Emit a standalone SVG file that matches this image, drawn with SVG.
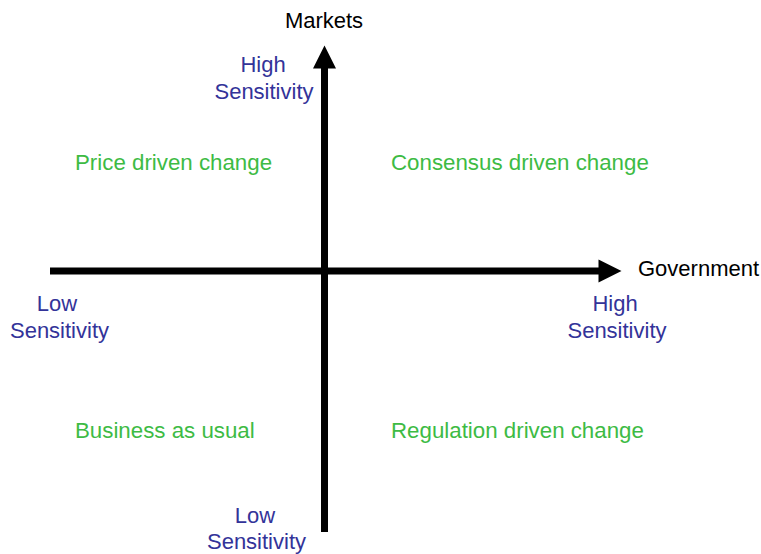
<svg xmlns="http://www.w3.org/2000/svg" width="761" height="554" viewBox="0 0 761 554">
<style>
text{font-family:"Liberation Sans",Arial,sans-serif;font-size:22px}
.ax{fill:#000}
.s{fill:#333399;text-anchor:middle}
.q{fill:#3dbb44;font-size:22.3px}
.ln{stroke:#000;stroke-width:7;fill:none}
</style>
<defs>
<marker id="ah" markerUnits="userSpaceOnUse" markerWidth="23" markerHeight="23" refX="0.5" refY="11.5" orient="auto" viewBox="0 0 23 23" overflow="visible">
<path d="M0,0 L23,11.5 L0,23 Z" fill="#000"/>
</marker>
</defs>
<g id="connectors">
<line class="ln" x1="324.5" y1="532" x2="324.5" y2="68" marker-end="url(#ah)"/>
<line class="ln" x1="50" y1="271" x2="599" y2="271" marker-end="url(#ah)"/>
</g>
<g id="markets"><text class="ax" x="324" y="28" text-anchor="middle">Markets</text></g>
<g id="government"><text class="ax" x="638" y="276">Government</text></g>
<g id="top-high"><text class="s" x="263" y="72">High</text><text class="s" x="264" y="99">Sensitivity</text></g>
<g id="left-low"><text class="s" x="57" y="311">Low</text><text class="s" x="59.5" y="338">Sensitivity</text></g>
<g id="right-high"><text class="s" x="615" y="311">High</text><text class="s" x="617" y="338">Sensitivity</text></g>
<g id="bottom-low"><text class="s" x="255" y="523">Low</text><text class="s" x="256.5" y="549">Sensitivity</text></g>
<g id="price"><text class="q" x="75" y="170">Price driven change</text></g>
<g id="consensus"><text class="q" x="391" y="170">Consensus driven change</text></g>
<g id="business"><text class="q" x="75" y="438">Business as usual</text></g>
<g id="regulation"><text class="q" x="391" y="438">Regulation driven change</text></g>
</svg>
